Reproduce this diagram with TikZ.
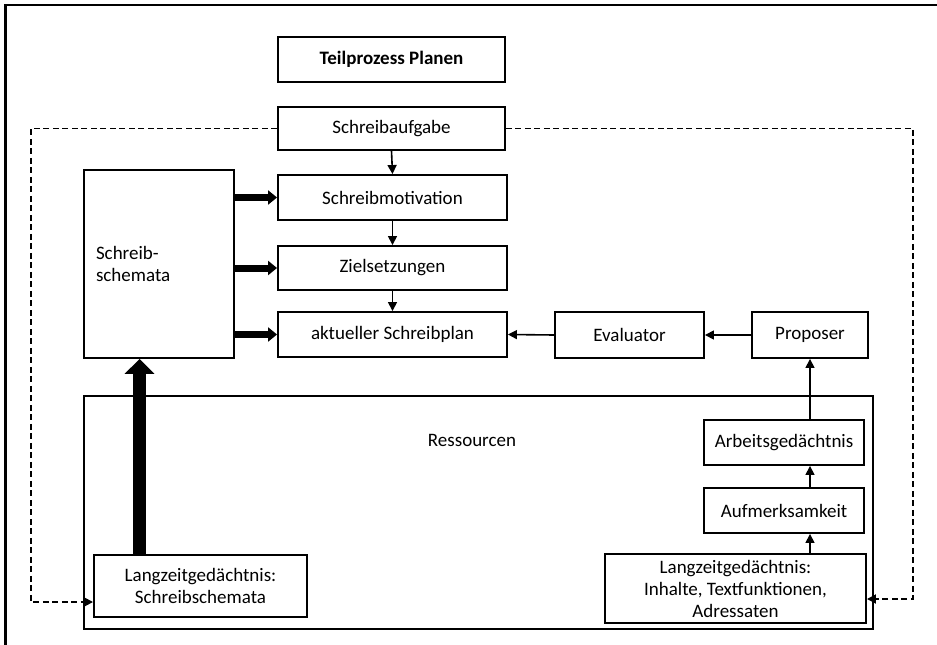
\documentclass[tikz,border=0pt]{standalone}
\usepackage{fontspec}
\setmainfont{Carlito}
\usetikzlibrary{arrows.meta,calc}
\begin{document}
\begin{tikzpicture}[x=1pt,y=-1pt,
  lbl/.style={font=\fontsize{19}{22}\selectfont, align=center},
  box/.style={draw, line width=1.9pt, inner sep=0pt, align=center, font=\fontsize{19}{22}\selectfont},
  arr/.style={line width=1.6pt, -{Triangle[length=9pt,width=9pt]}},
  thickarr/.style={line width=7pt, -{Triangle[length=9pt,width=14pt]}},
  bigarr/.style={line width=13pt, -{Triangle[length=15pt,width=29pt]}},
  dasharr/.style={line width=1.8pt, dash pattern=on 6pt off 3.5pt, -{Triangle[length=9pt,width=9pt]}},
]
\useasboundingbox (0,0) rectangle (937,645);
\draw[line width=2.4pt] (937,5) -- (5.5,5) -- (5.5,645);

\node[box, minimum width=227pt, minimum height=45pt, font=\bfseries\fontsize{19}{22}\selectfont] (teil) at (391.5,59.5) {Teilprozess Planen};
\node[box, minimum width=227pt, minimum height=43pt] (aufg) at (391.5,128.5) {Schreibaufgabe};
\node[box, minimum width=150pt, minimum height=188pt, text width=126pt, inner xsep=12pt, align=left] (schema) at (159,264) {Schreib-\\schemata};
\node[box, minimum width=229pt, minimum height=45pt] (motiv) at (392.5,197.5) {Schreibmotivation};
\node[box, minimum width=229pt, minimum height=44pt] (ziel) at (392.5,268) {Zielsetzungen};
\node[box, minimum width=229pt, minimum height=45pt] (plan) at (392.5,334.5) {aktueller Schreibplan};
\node[box, minimum width=149pt, minimum height=46pt] (eval) at (629.5,335) {Evaluator};
\node[box, minimum width=116pt, minimum height=46pt] (prop) at (810,335) {Proposer};

\node[box, minimum width=789pt, minimum height=233pt] (res) at (478.5,512.5) {};
\node[lbl] (restext) at (472,440) {Ressourcen};
\node[box, fill=white, minimum width=160pt, minimum height=45pt] (arbeit) at (784,442.5) {Arbeitsgedächtnis};
\node[box, fill=white, minimum width=160pt, minimum height=45pt] (aufm) at (784,510.5) {Aufmerksamkeit};
\node[box, fill=white, minimum width=261pt, minimum height=69pt] (lzr) at (735.5,588.5) {Langzeitgedächtnis:\\Inhalte, Textfunktionen,\\Adressaten};
\node[box, fill=white, minimum width=213pt, minimum height=62pt] (lzl) at (200.5,586) {Langzeitgedächtnis:\\Schreibschemata};

% vertical chain
\draw[arr] (aufg.south) -- (motiv.north);
\draw[arr] (motiv.south) -- (ziel.north);
\draw[arr] (ziel.south) -- (plan.north);

% schema thick arrows
\draw[thickarr] (schema.east |- motiv) -- (motiv.west);
\draw[thickarr] (schema.east |- ziel) -- (ziel.west);
\draw[thickarr] (schema.east |- plan) -- (plan.west);

% evaluator / proposer
\draw[arr] (eval.west) -- (plan.east);
\draw[arr] (prop.west) -- (eval.east);
\draw[arr] (arbeit.north -| prop.south) -- (prop.south);
\draw[arr] (aufm.north -| prop.south) -- (arbeit.south -| prop.south);
\draw[arr] (lzr.north -| prop.south) -- (aufm.south -| prop.south);

% big arrow
\coordinate (bx) at (139.5,0);
\draw[bigarr] (lzl.north -| bx) -- (schema.south -| bx);

% dashed feedback lines
\coordinate (dl) at (31,602);
\coordinate (dr) at (913,599);
\draw[dasharr] (aufg.west) -| (dl) -- (dl -| lzl.west);
\draw[dasharr] (aufg.east) -| (dr) -- (dr -| lzr.east);
\end{tikzpicture}
\end{document}
